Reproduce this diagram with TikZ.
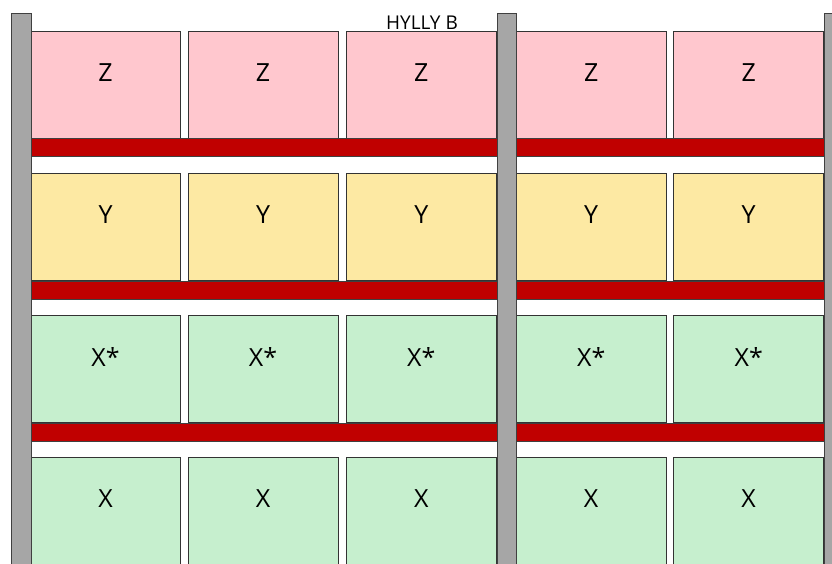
\documentclass[tikz,border=0pt]{standalone}
\usepackage{fontspec}
\setmainfont{Open Sans}
\usetikzlibrary{positioning}
\definecolor{zpink}{HTML}{FFC7CE}
\definecolor{yyellow}{HTML}{FDE9A3}
\definecolor{xgreen}{HTML}{C6EFCE}
\definecolor{beamred}{HTML}{C00000}
\definecolor{postgray}{HTML}{A6A6A6}

\begin{document}
\begin{tikzpicture}[x=1pt, y=-1pt,
    bin/.style={draw=black!80, line width=0.8pt, minimum width=150pt, minimum height=107.5pt, inner sep=0pt, anchor=north},
    beam/.style={draw=black!75, fill=beamred, line width=0.8pt, minimum height=18pt, inner sep=0pt, anchor=north west},
    post/.style={draw=black!75, fill=postgray, line width=0.8pt, minimum width=19.5pt, minimum height=600pt, inner sep=0pt, anchor=north west},
    lbl/.style={font=\fontsize{25}{25}\selectfont, inner sep=0pt},
    ttl/.style={font=\fontsize{19}{19}\selectfont, inner sep=0pt}
]
\useasboundingbox (0,0) rectangle (832,563);
\clip (0,0) rectangle (832,563);

% bins on the shelves
\foreach \r/\t/\c/\lab in {1/30.7/zpink/Z, 2/172.5/yyellow/Y, 3/314.5/xgreen/X*, 4/456.7/xgreen/X}{
  \foreach \k/\x in {1/105.5, 2/263, 3/421.3, 4/591.2, 5/748.7}{
    \node[bin, fill=\c] (b\r\k) at (\x,\t) {};
    \node[lbl] (l\r\k) at (\x,\t+42) {\lab};
  }
}

% shelf beams
\foreach \r/\t in {1/138, 2/280.5, 3/422.5}{
  \node[beam, minimum width=466.2pt] (bl\r) at (30.5,\t) {};
  \node[beam, minimum width=308.3pt] (br\r) at (515.7,\t) {};
}

% uprights
\node[post] (pl) at (11,13) {};
\node[post] (pm) at (496.7,13) {};
\node[post] (pr) at (824,13) {};

\node[ttl] (hylly) at (422,23) {HYLLY B};
\end{tikzpicture}
\end{document}
